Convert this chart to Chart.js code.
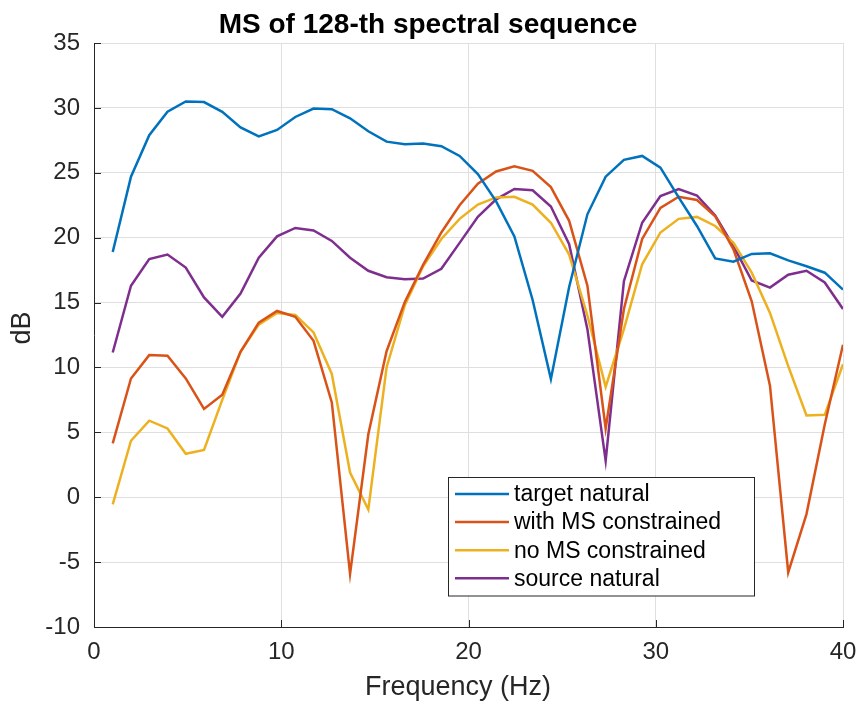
<!DOCTYPE html>
<html>
<head>
<meta charset="utf-8">
<script src="https://cdn.jsdelivr.net/npm/chart.js@4/dist/chart.umd.min.js"></script>
<style>
  html, body { margin: 0; padding: 0; background: #ffffff; }
  #wrap { width: 859px; height: 706px; }
</style>
</head>
<body>
<div id="wrap"><canvas id="c" width="859" height="706"></canvas></div>
<script>
// ---- data ----
const freq = [1, 1.975, 2.95, 3.925, 4.9, 5.875, 6.85, 7.825, 8.8, 9.775, 10.75, 11.725, 12.7, 13.675, 14.65, 15.625, 16.6, 17.575, 18.55, 19.525, 20.5, 21.475, 22.45, 23.425, 24.4, 25.375, 26.35, 27.325, 28.3, 29.275, 30.25, 31.225, 32.2, 33.175, 34.15, 35.125, 36.1, 37.075, 38.05, 39.025, 40];
const targetNatural = [18.9, 24.7, 27.9, 29.7, 30.5, 30.45, 29.7, 28.5, 27.8, 28.3, 29.3, 29.95, 29.9, 29.2, 28.2, 27.4, 27.2, 27.25, 27.05, 26.3, 24.9, 22.8, 20.1, 15.2, 9.1, 16.2, 21.8, 24.7, 26.0, 26.3, 25.4, 23.1, 20.9, 18.4, 18.15, 18.75, 18.8, 18.25, 17.8, 17.3, 16.0];
const withMS = [4.15, 9.15, 10.95, 10.9, 9.15, 6.8, 7.9, 11.2, 13.45, 14.35, 13.9, 12.05, 7.3, -5.9, 4.85, 11.25, 15.05, 17.9, 20.4, 22.5, 24.15, 25.1, 25.5, 25.15, 23.9, 21.3, 16.3, 5.3, 14.5, 19.9, 22.3, 23.15, 22.9, 21.65, 19.1, 15.1, 8.6, -5.8, -1.3, 5.6, 11.75];
const noMS = [-0.55, 4.35, 5.9, 5.3, 3.35, 3.65, 7.5, 11.2, 13.3, 14.2, 14.05, 12.7, 9.5, 1.9, -0.95, 10.0, 14.8, 17.8, 19.9, 21.45, 22.55, 23.1, 23.15, 22.55, 21.15, 18.7, 14.0, 8.5, 12.95, 17.95, 20.4, 21.45, 21.6, 20.9, 19.6, 17.3, 14.2, 10.1, 6.3, 6.35, 10.25];
const sourceNatural = [11.15, 16.3, 18.35, 18.7, 17.7, 15.4, 13.9, 15.7, 18.45, 20.1, 20.75, 20.55, 19.75, 18.45, 17.45, 16.95, 16.8, 16.85, 17.6, 19.6, 21.6, 22.95, 23.75, 23.65, 22.4, 19.5, 12.95, 2.8, 16.65, 21.15, 23.2, 23.75, 23.25, 21.7, 19.35, 16.7, 16.15, 17.15, 17.45, 16.55, 14.5];
const seriesLabels = ['target natural', 'with MS constrained', 'no MS constrained', 'source natural'];
const seriesColors = ['#0072BD', '#D95319', '#EDB120', '#7E2F8E'];
const titleText = 'MS of 128-th spectral sequence';
const xTitle = 'Frequency (Hz)';
const yTitle = 'dB';

const FONT = '"Liberation Sans", Arial, Helvetica, sans-serif';
const AX = '#262626';

function pts(arr) { return freq.map((f, i) => ({ x: f, y: arr[i] })); }
const allSeries = [targetNatural, withMS, noMS, sourceNatural];

const decor = {
  id: 'decor',
  afterDraw(chart) {
    const ctx = chart.ctx;
    const a = chart.chartArea;
    const xs = chart.scales.x, ys = chart.scales.y;
    ctx.save();
    // inward ticks
    ctx.strokeStyle = AX; ctx.lineWidth = 1;
    ctx.beginPath();
    ys.ticks.forEach(t => {
      const py = Math.round(ys.getPixelForValue(t.value)) + 0.5;
      ctx.moveTo(a.left, py); ctx.lineTo(a.left + 7, py);
    });
    xs.ticks.forEach(t => {
      const px = Math.round(xs.getPixelForValue(t.value)) + 0.5;
      ctx.moveTo(px, a.bottom); ctx.lineTo(px, a.bottom - 7);
    });
    ctx.stroke();

    // title
    ctx.fillStyle = '#000000';
    ctx.font = 'bold 28px ' + FONT;
    ctx.textAlign = 'center'; ctx.textBaseline = 'alphabetic';
    ctx.fillText(titleText, 428, 33);

    // axis titles
    ctx.fillStyle = AX;
    ctx.font = '27px ' + FONT;
    ctx.fillText(xTitle, 458, 695);
    ctx.save();
    ctx.translate(30, 328);
    ctx.rotate(-Math.PI / 2);
    ctx.fillText(yTitle, 0, 0);
    ctx.restore();

    // legend
    const bx = 448.5, by = 477.5, bw = 306, bh = 118.5;
    ctx.fillStyle = '#ffffff';
    ctx.fillRect(bx, by, bw, bh);
    ctx.strokeStyle = AX; ctx.lineWidth = 1;
    ctx.strokeRect(bx, by, bw, bh);
    ctx.font = '23px ' + FONT;
    ctx.textAlign = 'left'; ctx.textBaseline = 'middle';
    chart.data.datasets.forEach((ds, i) => {
      const ry = 494 + i * 28.1;
      ctx.strokeStyle = ds.borderColor; ctx.lineWidth = 2.5;
      ctx.beginPath(); ctx.moveTo(455, ry); ctx.lineTo(509, ry); ctx.stroke();
      ctx.fillStyle = '#000000';
      ctx.fillText(ds.label, 514, ry + 1);
    });
    ctx.restore();
  }
};

new Chart(document.getElementById('c'), {
  type: 'line',
  data: {
    datasets: allSeries.map((s, i) => ({
      label: seriesLabels[i],
      data: pts(s),
      borderColor: seriesColors[i],
      backgroundColor: seriesColors[i],
      borderWidth: 2.5,
      pointRadius: 0,
      tension: 0,
      fill: false
    }))
  },
  options: {
    responsive: false,
    animation: false,
    devicePixelRatio: 1,
    layout: { padding: { top: 43, right: 16, bottom: 0, left: 0 } },
    plugins: { legend: { display: false }, title: { display: false }, tooltip: { enabled: false } },
    scales: {
      x: {
        type: 'linear', min: 0, max: 40,
        ticks: { stepSize: 10, font: { size: 24, family: FONT }, color: AX, padding: 11, maxRotation: 0 },
        grid: { color: '#dfdfdf', drawTicks: false },
        border: { display: true, color: AX, width: 1 },
        afterFit(s) { s.height = 79; s.paddingLeft = 0; s.paddingRight = 0; }
      },
      y: {
        type: 'linear', min: -10, max: 35,
        ticks: { stepSize: 5, font: { size: 24, family: FONT }, color: AX, padding: 14 },
        grid: { color: '#dfdfdf', drawTicks: false },
        border: { display: true, color: AX, width: 1 },
        afterFit(s) { s.width = 94; s.paddingTop = 0; s.paddingBottom = 0; }
      }
    }
  },
  plugins: [decor]
});
</script>
</body>
</html>
